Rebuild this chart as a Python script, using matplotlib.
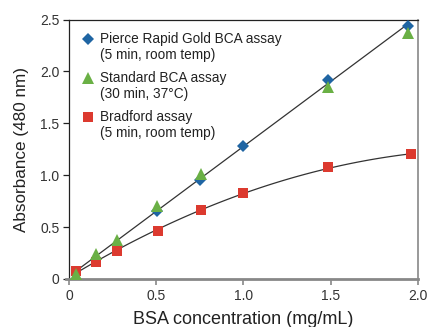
import matplotlib
matplotlib.use('Agg')
import matplotlib.pyplot as plt
import numpy as np

plt.rcParams['font.family'] = ['Liberation Sans', 'DejaVu Sans']

# BSA concentration (mg/mL) and absorbance at 480 nm
pierce_x = [0.506, 0.751, 0.999, 1.486, 1.944]
pierce_y = [0.655, 0.955, 1.284, 1.917, 2.437]

bca_x = [0.038, 0.153, 0.273, 0.506, 0.756, 1.486, 1.944]
bca_y = [0.045, 0.245, 0.375, 0.70, 1.01, 1.855, 2.375]

brad_x = [0.040, 0.155, 0.273, 0.508, 0.755, 1.000, 1.486, 1.960]
brad_y = [0.077, 0.160, 0.270, 0.465, 0.667, 0.830, 1.076, 1.200]

blue = '#1f65a3'
green = '#6ab045'
red = '#dc3a2f'

fig = plt.figure(figsize=(4.29, 3.27), dpi=100)
ax = fig.add_axes([0.161, 0.1468, 0.813, 0.7932])

# fitted curves
lin = np.polyfit(pierce_x, pierce_y, 1)
xl = np.linspace(0.03, 1.944, 50)
ax.plot(xl, np.polyval(lin, xl), color='#333333', lw=0.9, zorder=2)
quad = np.polyfit(brad_x, brad_y, 2)
xq = np.linspace(0.03, 1.96, 100)
ax.plot(xq, np.polyval(quad, xq), color='#333333', lw=0.9, zorder=2)

ax.plot(brad_x, brad_y, 's', color=red, ms=7, mew=0, zorder=3)
ax.plot(pierce_x, pierce_y, 'D', color=blue, ms=6, mew=0, zorder=4)
ax.plot(bca_x, bca_y, '^', color=green, ms=8, mew=0, zorder=5)

# legend drawn by hand
leg = [('D', blue, 6, 'Pierce Rapid Gold BCA assay', '(5 min, room temp)', 0.925),
       ('^', green, 8, 'Standard BCA assay', '(30 min, 37\u00b0C)', 0.776),
       ('s', red, 7, 'Bradford assay', '(5 min, room temp)', 0.625)]
for m, c, s, l1, l2, yy in leg:
    ax.plot([0.054], [yy], m, color=c, ms=s, mew=0, transform=ax.transAxes, clip_on=False)
    ax.text(0.09, yy, l1, transform=ax.transAxes, fontsize=9.8, va='center', color='#222222')
    ax.text(0.09, yy - 0.062, l2, transform=ax.transAxes, fontsize=9.8, va='center', color='#222222')

ax.set_xlim(0, 2.0)
ax.set_ylim(0, 2.5)
ax.set_xticks([0, 0.5, 1.0, 1.5, 2.0])
ax.set_xticklabels(['0', '0.5', '1.0', '1.5', '2.0'])
ax.set_yticks([0, 0.5, 1.0, 1.5, 2.0, 2.5])
ax.set_yticklabels(['0', '0.5', '1.0', '1.5', '2.0', '2.5'])

ax.spines['top'].set_color('#222222')
ax.spines['top'].set_linewidth(0.9)
ax.spines['left'].set_color('#222222')
ax.spines['left'].set_linewidth(0.9)
ax.spines['right'].set_color('#888888')
ax.spines['right'].set_linewidth(1.2)
ax.spines['bottom'].set_color('#888888')
ax.spines['bottom'].set_linewidth(2.0)
ax.spines['bottom'].set_bounds(-0.02, 2.0)

ax.tick_params(axis='y', direction='out', length=4, width=0.9, color='#222222',
               labelsize=10, labelcolor='#333333', pad=3)
ax.tick_params(axis='x', direction='out', length=4, width=1.2, color='#888888',
               labelsize=10, labelcolor='#333333', pad=3)

ax.set_xlabel('BSA concentration (mg/mL)', fontsize=13, color='#222222', labelpad=6)
ax.set_ylabel('Absorbance (480 nm)', fontsize=12.3, color='#222222', labelpad=8)

fig.savefig('out.png', dpi=100)
